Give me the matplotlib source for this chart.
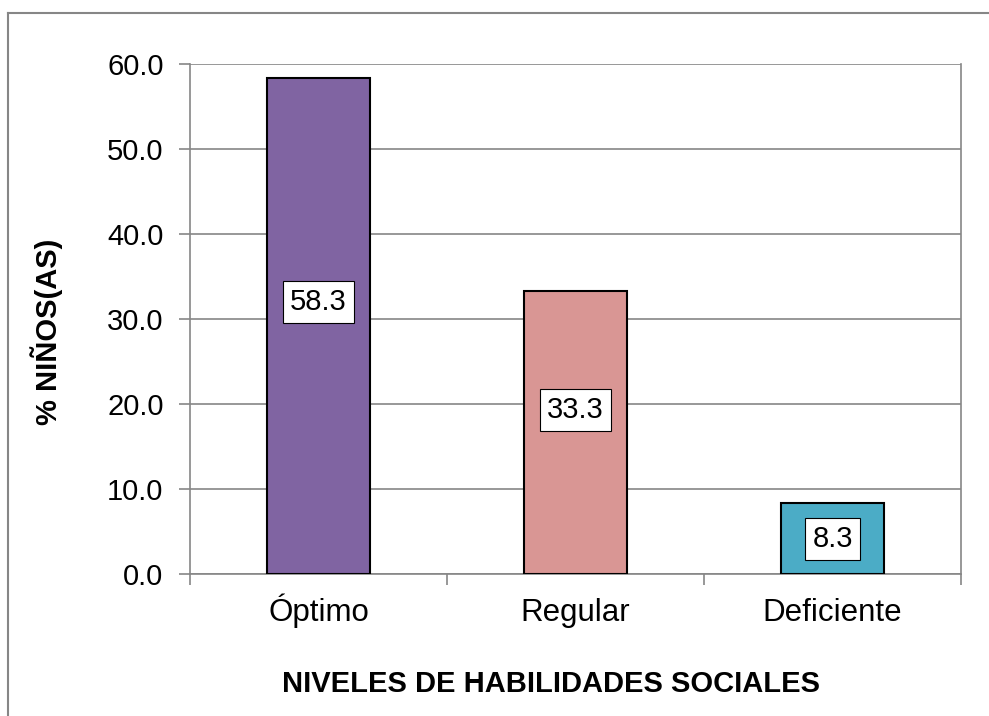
import matplotlib
matplotlib.use("Agg")
import matplotlib.pyplot as plt
from matplotlib.lines import Line2D

categories = ["Óptimo", "Regular", "Deficiente"]
values = [58.3, 33.3, 8.3]
label_y = [32.0, 19.3, 4.1]
colors = ["#8064A2", "#D99694", "#4BACC6"]
yticks = [0, 10, 20, 30, 40, 50, 60]

plt.rcParams['font.family'] = ['Liberation Sans', 'DejaVu Sans']

fig = plt.figure(figsize=(9.89, 7.16), dpi=100)
ax = fig.add_axes([190/989, 1-574/716, (961-190)/989, (574-64)/716])

gray = "#868686"
x = list(range(len(categories)))
ax.bar(x, values, width=0.4, color=colors, edgecolor="black", linewidth=1.5, zorder=3)
for xi, v, ly in zip(x, values, label_y):
    ax.text(xi, ly, f"{v:.1f}", ha="center", va="center", fontsize=21, zorder=4,
            bbox=dict(boxstyle="square,pad=0.25", fc="white", ec="black", lw=0.8))

ax.set_xlim(-0.5, 2.5)
ax.set_ylim(0, 60)
ax.set_yticks(yticks)
ax.set_yticklabels([f"{t:.1f}" for t in yticks], fontsize=21)
ax.set_xticks(x)
ax.set_xticklabels(categories, fontsize=22.5, va="baseline")
ax.set_xticks([-0.5, 0.5, 1.5, 2.5], minor=True)
ax.tick_params(axis="x", which="major", length=0, pad=33.8)
ax.tick_params(axis="x", which="minor", length=8, width=1.2, color=gray, direction="out")
ax.tick_params(axis="y", length=8, width=1.2, color=gray, direction="out", pad=11)
ax.yaxis.grid(True, color=gray, linewidth=1.2, zorder=0)
ax.set_axisbelow(True)
for s in ["left", "bottom", "right"]:
    ax.spines[s].set_color(gray)
    ax.spines[s].set_linewidth(1.2)
ax.spines["top"].set_visible(False)

fig.text(47/989, 1-332/716, "% NIÑOS(AS)", ha="center", va="center", rotation=90,
         fontsize=21, fontweight="bold")
fig.text(551/989, 1-692/716, "NIVELES DE HABILIDADES SOCIALES", ha="center", va="baseline",
         fontsize=21, fontweight="bold")

fig.add_artist(Line2D([8/989, 8/989], [0, 1-13/716], color=gray, lw=1.5, transform=fig.transFigure))
fig.add_artist(Line2D([8/989, 1], [1-13/716, 1-13/716], color=gray, lw=1.5, transform=fig.transFigure))

fig.savefig("out.png", dpi=100)
